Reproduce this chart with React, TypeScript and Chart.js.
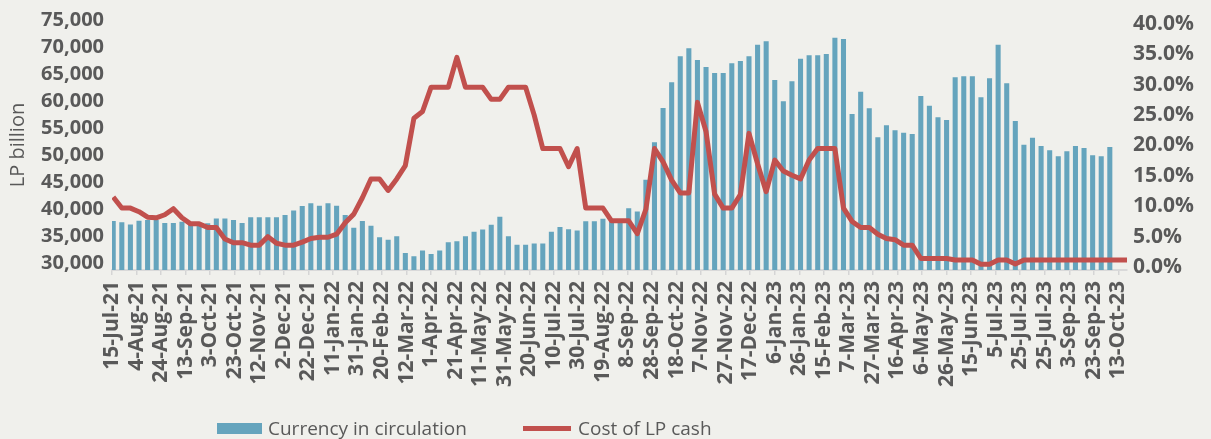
import React, { useEffect, useRef } from "react";
import { Chart, registerables } from "chart.js";

Chart.register(...registerables);

// Weekly observation dates (Fridays)
const weekDates: string[] = [
  "2021-07-16", "2021-07-23", "2021-07-30", "2021-08-06", "2021-08-13", "2021-08-20", "2021-08-27",
  "2021-09-03", "2021-09-10", "2021-09-17", "2021-09-24", "2021-10-01", "2021-10-08", "2021-10-15",
  "2021-10-22", "2021-10-29", "2021-11-05", "2021-11-12", "2021-11-19", "2021-11-26", "2021-12-03",
  "2021-12-10", "2021-12-17", "2021-12-24", "2021-12-31",
  "2022-01-07", "2022-01-14", "2022-01-21", "2022-01-28", "2022-02-04", "2022-02-11", "2022-02-18",
  "2022-02-25", "2022-03-04", "2022-03-11", "2022-03-18", "2022-03-25", "2022-04-01", "2022-04-08",
  "2022-04-15", "2022-04-22", "2022-04-29", "2022-05-06", "2022-05-13", "2022-05-20", "2022-05-27",
  "2022-06-03", "2022-06-10", "2022-06-17", "2022-06-24", "2022-07-01", "2022-07-08", "2022-07-15",
  "2022-07-22", "2022-07-29", "2022-08-05", "2022-08-12", "2022-08-19", "2022-08-26", "2022-09-02",
  "2022-09-09", "2022-09-16", "2022-09-23", "2022-09-30", "2022-10-07", "2022-10-14", "2022-10-21",
  "2022-10-28", "2022-11-04", "2022-11-11", "2022-11-18", "2022-11-25", "2022-12-02", "2022-12-09",
  "2022-12-16", "2022-12-23", "2022-12-30",
  "2023-01-06", "2023-01-13", "2023-01-20", "2023-01-27", "2023-02-03", "2023-02-10", "2023-02-17",
  "2023-02-24", "2023-03-03", "2023-03-10", "2023-03-17", "2023-03-24", "2023-03-31", "2023-04-07",
  "2023-04-14", "2023-04-21", "2023-04-28", "2023-05-05", "2023-05-12", "2023-05-19", "2023-05-26",
  "2023-06-02", "2023-06-09", "2023-06-16", "2023-06-23", "2023-06-30", "2023-07-07", "2023-07-14",
  "2023-07-21", "2023-07-28", "2023-08-04", "2023-08-11", "2023-08-18", "2023-08-25", "2023-09-01",
  "2023-09-08", "2023-09-15", "2023-09-22", "2023-09-29", "2023-10-06", "2023-10-13", "2023-10-20",
];

// Currency in circulation, LP billion (left axis)
const currencyInCirculation: number[] = [
  37700, 37500, 37050, 37750, 37900, 37900, 37350, 37350, 37600, 37000,
  37000, 37300, 38200, 38200, 37900, 37350, 38400, 38400, 38400, 38400,
  38850, 39650, 40500, 41000, 40550, 41000, 40550, 38850, 36450, 37700,
  36850, 34700, 34250, 34900, 31800, 31170, 32250, 31600, 32250, 33770,
  33980, 34880, 35740, 36140, 37040, 38520, 34880, 33330, 33330, 33550,
  33550, 35740, 36600, 36170, 35960, 37690, 37690, 38150, 38000, 37600,
  40090, 39480, 45370, 52300, 58640, 63400, 68210, 69720, 67530, 66240,
  65120, 65120, 66910, 67350, 68210, 70370, 70990, 63830, 59910, 63610,
  67780, 68400, 68400, 68640, 71670, 71420, 57530, 61670, 58580, 53210,
  55430, 54510, 54080, 53830, 60870, 59080, 56910, 56420, 64320, 64510,
  64510, 60620, 64140, 70370, 63210, 56240, 51850, 53150, 51610, 50800,
  49690, 50620, 51610, 51240, 49880, 49690, 51420,
];

// Cost of LP cash, % (right axis)
const costOfLPCash: number[] = [
  11.5, 9.7, 9.7, 9.1, 8.2, 8.1, 8.6, 9.6, 8.1, 7.1,
  7.1, 6.5, 6.5, 4.6, 4.0, 4.0, 3.6, 3.6, 5.0, 3.9,
  3.6, 3.6, 4.1, 4.7, 4.9, 4.9, 5.4, 7.3, 8.7, 11.4,
  14.5, 14.5, 12.6, 14.5, 16.7, 24.5, 25.6, 29.6, 29.6, 29.6,
  34.5, 29.6, 29.6, 29.6, 27.6, 27.6, 29.6, 29.6, 29.6, 25.0,
  19.5, 19.5, 19.5, 16.5, 19.5, 9.7, 9.7, 9.7, 7.6, 7.6,
  7.6, 5.5, 9.5, 19.5, 17.3, 14.3, 12.2, 12.2, 27.1, 22.3,
  12.0, 9.7, 9.7, 11.9, 22.0, 17.0, 12.4, 17.6, 15.8, 15.1,
  14.5, 17.6, 19.5, 19.5, 19.5, 9.7, 7.5, 6.5, 6.5, 5.4,
  4.7, 4.5, 3.6, 3.6, 1.4, 1.4, 1.4, 1.4, 1.15, 1.15,
  1.15, 0.45, 0.45, 1.15, 1.15, 0.5, 1.15, 1.15, 1.15, 1.15,
  1.15, 1.15, 1.15, 1.15, 1.15, 1.15, 1.15, 1.15, 1.15,
];

// Date axis: starts 15-Jul-21, a labelled tick every 20 days
const axisStartDate = "2021-07-15";
const axisEndDate = "2023-10-20";
const tickStepDays = 20;
const tickLabels: string[] = [
  "15-Jul-21", "4-Aug-21", "24-Aug-21", "13-Sep-21", "3-Oct-21", "23-Oct-21", "12-Nov-21",
  "2-Dec-21", "22-Dec-21", "11-Jan-22", "31-Jan-22", "20-Feb-22", "12-Mar-22", "1-Apr-22",
  "21-Apr-22", "11-May-22", "31-May-22", "20-Jun-22", "10-Jul-22", "30-Jul-22", "19-Aug-22",
  "8-Sep-22", "28-Sep-22", "18-Oct-22", "7-Nov-22", "27-Nov-22", "17-Dec-22", "6-Jan-23",
  "26-Jan-23", "15-Feb-23", "7-Mar-23", "27-Mar-23", "16-Apr-23", "6-May-23", "26-May-23",
  "15-Jun-23", "5-Jul-23", "25-Jul-23", "25-Jul-23", "3-Sep-23", "23-Sep-23", "13-Oct-23",
];

const leftTicks: number[] = [30000, 35000, 40000, 45000, 50000, 55000, 60000, 65000, 70000, 75000];
const rightTicks: number[] = [0, 5, 10, 15, 20, 25, 30, 35, 40];

const BAR_COLOR = "rgb(101,164,189)";
const LINE_COLOR = "rgb(193,80,77)";
const TEXT_COLOR = "#595959";
const BG_COLOR = "#F0F0EC";

function dayOffset(iso: string): number {
  const [y, m, d] = iso.split("-").map(Number);
  const [y0, m0, d0] = axisStartDate.split("-").map(Number);
  return Math.round((Date.UTC(y, m - 1, d) - Date.UTC(y0, m0 - 1, d0)) / 86400000);
}

export default function App() {
  const canvasRef = useRef<HTMLCanvasElement | null>(null);

  useEffect(() => {
    const canvas = canvasRef.current;
    if (!canvas) return;
    const tickDays = tickLabels.map((_, i) => i * tickStepDays);
    const tickFont = { family: "'Open Sans', sans-serif", size: 21, weight: "bold" as const };

    const chart = new Chart(canvas, {
      type: "bar",
      data: {
        datasets: [
          {
            type: "line",
            label: "Cost of LP cash",
            data: weekDates.map((d, i) => ({ x: dayOffset(d), y: costOfLPCash[i] })),
            yAxisID: "y1",
            borderColor: LINE_COLOR,
            backgroundColor: LINE_COLOR,
            borderWidth: 5,
            pointRadius: 0,
            tension: 0,
            fill: false,
            borderJoinStyle: "round",
            borderCapStyle: "butt",
            order: 1,
          } as any,
          {
            type: "bar",
            label: "Currency in circulation",
            data: currencyInCirculation.map((v, i) => ({ x: dayOffset(weekDates[i]), y: v })),
            yAxisID: "y",
            backgroundColor: BAR_COLOR,
            borderWidth: 0,
            barThickness: 4.4,
            order: 2,
          } as any,
        ],
      },
      options: {
        responsive: false,
        animation: false,
        layout: { padding: { top: 20, left: 0, right: 0, bottom: 39 } },
        plugins: { legend: { display: false }, tooltip: { enabled: false } },
        scales: {
          x: {
            type: "linear",
            min: 0,
            max: dayOffset(axisEndDate),
            offset: false,
            grid: {
              display: true,
              drawOnChartArea: false,
              drawTicks: true,
              tickLength: 5,
              color: "#D5D5D5",
              lineWidth: 1.5,
              offset: false,
            },
            border: { display: true, color: "#D9D9D9", width: 2 },
            ticks: {
              autoSkip: false,
              minRotation: 90,
              maxRotation: 90,
              padding: 6,
              color: TEXT_COLOR,
              font: tickFont,
              callback: (_v: any, i: number) => tickLabels[i],
            },
            afterBuildTicks: (axis: any) => {
              axis.ticks = tickDays.map((v) => ({ value: v }));
            },
            afterFit: (s: any) => {
              s.height = 130;
            },
          },
          y: {
            type: "linear",
            position: "left",
            min: 28704,
            max: 75000,
            grid: { display: false, drawTicks: false },
            border: { display: false },
            title: {
              display: true,
              text: "LP billion",
              color: TEXT_COLOR,
              font: { family: "'Open Sans', sans-serif", size: 20, weight: "normal" },
              padding: { top: 6, bottom: 0 },
            },
            ticks: {
              padding: 8,
              color: TEXT_COLOR,
              font: { family: "'Open Sans', sans-serif", size: 20, weight: "bold" },
              callback: (v: any) => Number(v).toLocaleString("en-US"),
            },
            afterBuildTicks: (axis: any) => {
              axis.ticks = leftTicks.map((v) => ({ value: v }));
            },
            afterFit: (s: any) => {
              s.width = 112;
            },
          },
          y1: {
            type: "linear",
            position: "right",
            min: -0.494,
            max: 40.66,
            grid: { display: false, drawTicks: false },
            border: { display: false },
            ticks: {
              padding: 6,
              color: TEXT_COLOR,
              font: tickFont,
              callback: (v: any) => Number(v).toFixed(1) + "%",
            },
            afterBuildTicks: (axis: any) => {
              axis.ticks = rightTicks.map((v) => ({ value: v }));
            },
            afterFit: (s: any) => {
              s.width = 84;
            },
          },
        },
      } as any,
    });

    return () => {
      chart.destroy();
    };
  }, []);

  const legendText: React.CSSProperties = {
    position: "absolute",
    top: 418,
    height: 20,
    lineHeight: "20px",
    fontFamily: "'Open Sans', sans-serif",
    fontSize: 19,
    color: TEXT_COLOR,
    whiteSpace: "nowrap",
  };

  return (
    <div style={{ position: "fixed", left: 0, top: 0, width: 1211, height: 439, background: BG_COLOR, overflow: "hidden" }}>
      <canvas ref={canvasRef} width={1211} height={439} style={{ position: "absolute", left: 0, top: 0, display: "block" }} />
      <div style={{ position: "absolute", left: 217, top: 423, width: 45, height: 11, background: BAR_COLOR }} />
      <div style={{ ...legendText, left: 268 }}>Currency in circulation</div>
      <div style={{ position: "absolute", left: 523, top: 426, width: 48, height: 5, background: LINE_COLOR }} />
      <div style={{ ...legendText, left: 578 }}>Cost of LP cash</div>
    </div>
  );
}
